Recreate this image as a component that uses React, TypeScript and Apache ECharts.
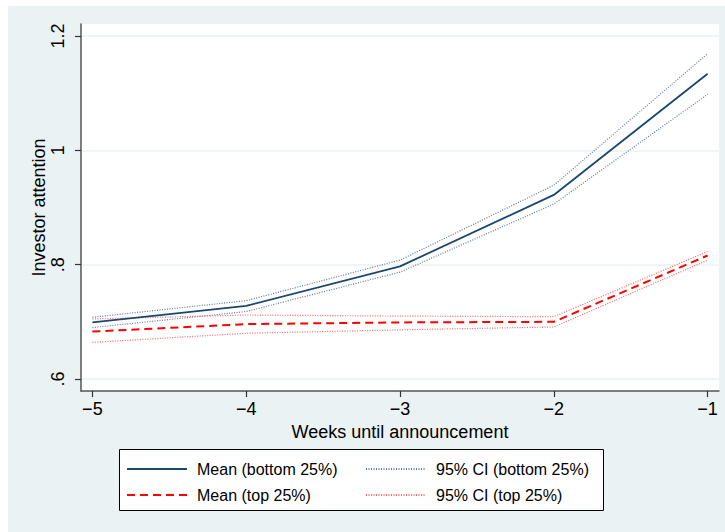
import React, { useEffect, useRef } from "react";
import * as echarts from "echarts";

const weeks = [-5, -4, -3, -2, -1];
const meanBottom = [0.699, 0.728, 0.797, 0.922, 1.134];
const ciBottomUpper = [0.708, 0.737, 0.808, 0.939, 1.169];
const ciBottomLower = [0.69, 0.718, 0.787, 0.906, 1.098];
const meanTop = [0.683, 0.696, 0.699, 0.7, 0.816];
const ciTopUpper = [0.705, 0.712, 0.71, 0.709, 0.823];
const ciTopLower = [0.664, 0.68, 0.686, 0.691, 0.808];
const xTicks = [-5, -4, -3, -2, -1];
const yTicks = [0.6, 0.8, 1, 1.2];

const NAVY = "#1A476F";
const RED = "#FF0000";
const FONT = "Liberation Sans, Arial, Helvetica, sans-serif";

const pairs = (ys: number[]) => weeks.map((w, i) => [w, ys[i]]);

export default function App() {
  const ref = useRef<HTMLDivElement>(null);
  useEffect(() => {
    const chart = echarts.init(ref.current!, undefined, { renderer: "svg" });
    const lineBase = { type: "line", showSymbol: false, symbol: "none", silent: true };
    const legendBase = {
      orient: "vertical",
      top: 461,
      itemWidth: 60,
      itemHeight: 16,
      itemGap: 10,
      padding: 0,
      selectedMode: false,
      itemStyle: { opacity: 0 },
      textStyle: { fontSize: 16, color: "#000", fontFamily: FONT, padding: [0, 0, 0, 5], lineHeight: 16 },
    };
    chart.setOption({
      animation: false,
      backgroundColor: "transparent",
      textStyle: { fontFamily: FONT },
      graphic: [
        {
          type: "rect",
          z: -10,
          silent: true,
          shape: { x: 8, y: 6, width: 717, height: 526 },
          style: { fill: "#EAF2F3" },
        },
        {
          type: "rect",
          z: 1,
          silent: true,
          shape: { x: 119.5, y: 449.5, width: 484, height: 61 },
          style: { fill: "#FFFFFF", stroke: "#000000", lineWidth: 1 },
        },
      ],
      grid: {
        left: 81,
        top: 24,
        right: 6,
        bottom: 141,
        show: true,
        backgroundColor: "#FFFFFF",
        borderWidth: 0,
      },
      xAxis: {
        type: "value",
        min: -5.074,
        max: -0.926,
        name: "Weeks until announcement",
        nameLocation: "middle",
        nameGap: 32,
        nameMoveOverlap: false,
        nameTextStyle: { fontSize: 18, color: "#000", fontFamily: FONT },
        axisLine: { show: true, lineStyle: { color: "#555555", width: 1.5 } },
        axisTick: { show: true, length: 6, customValues: xTicks, lineStyle: { color: "#333", width: 1.2 } },
        axisLabel: {
          customValues: xTicks,
          margin: 9,
          fontSize: 18,
          color: "#000",
          fontFamily: FONT,
          formatter: (v: number) => (v < 0 ? "\u2212" + Math.abs(v) : String(v)),
        },
        splitLine: { show: false },
      },
      yAxis: {
        type: "value",
        min: 0.579,
        max: 1.221,
        name: "Investor attention",
        nameLocation: "middle",
        nameRotate: 90,
        nameGap: 33,
        nameMoveOverlap: false,
        nameTextStyle: { fontSize: 18, color: "#000", fontFamily: FONT },
        axisLine: { show: true, lineStyle: { color: "#555555", width: 1.5 } },
        axisTick: { show: true, length: 6, customValues: yTicks, lineStyle: { color: "#333", width: 1.2 } },
        axisLabel: {
          customValues: yTicks,
          rotate: 90,
          margin: 14,
          fontSize: 18,
          color: "#000",
          fontFamily: FONT,
          formatter: (v: number) => {
            const s = String(Math.round(v * 10) / 10);
            return s.startsWith("0.") ? s.slice(1) : s;
          },
        },
        splitLine: { show: true, lineStyle: { color: "#EAF2F3", width: 1.5 } },
      },
      legend: [
        { ...legendBase, data: ["Mean (bottom 25%)", "Mean (top 25%)"], left: 126 },
        { ...legendBase, data: ["95% CI (bottom 25%)", "95% CI (top 25%)"], left: 365 },
      ],
      series: [
        {
          ...lineBase,
          name: "95% CI (bottom 25%)",
          data: pairs(ciBottomUpper),
          lineStyle: { color: "#5b7a99", width: 1.2, type: [1, 1.5] },
          itemStyle: { color: "#5b7a99" },
        },
        {
          ...lineBase,
          name: "95% CI (bottom 25%)",
          data: pairs(ciBottomLower),
          lineStyle: { color: "#5b7a99", width: 1.2, type: [1, 1.5] },
          itemStyle: { color: "#5b7a99" },
        },
        {
          ...lineBase,
          name: "95% CI (top 25%)",
          data: pairs(ciTopUpper),
          lineStyle: { color: "#FF6666", width: 1.2, type: [1, 1.5] },
          itemStyle: { color: "#FF6666" },
        },
        {
          ...lineBase,
          name: "95% CI (top 25%)",
          data: pairs(ciTopLower),
          lineStyle: { color: "#FF6666", width: 1.2, type: [1, 1.5] },
          itemStyle: { color: "#FF6666" },
        },
        {
          ...lineBase,
          name: "Mean (bottom 25%)",
          data: pairs(meanBottom),
          lineStyle: { color: NAVY, width: 1.8, type: "solid" },
          itemStyle: { color: NAVY },
        },
        {
          ...lineBase,
          name: "Mean (top 25%)",
          data: pairs(meanTop),
          lineStyle: { color: RED, width: 2, type: [8, 5] },
          itemStyle: { color: RED },
        },
      ],
    });
    return () => chart.dispose();
  }, []);
  return (
    <div
      ref={ref}
      style={{ position: "absolute", left: 0, top: 0, width: 725, height: 532, background: "#FFFFFF" }}
    />
  );
}
